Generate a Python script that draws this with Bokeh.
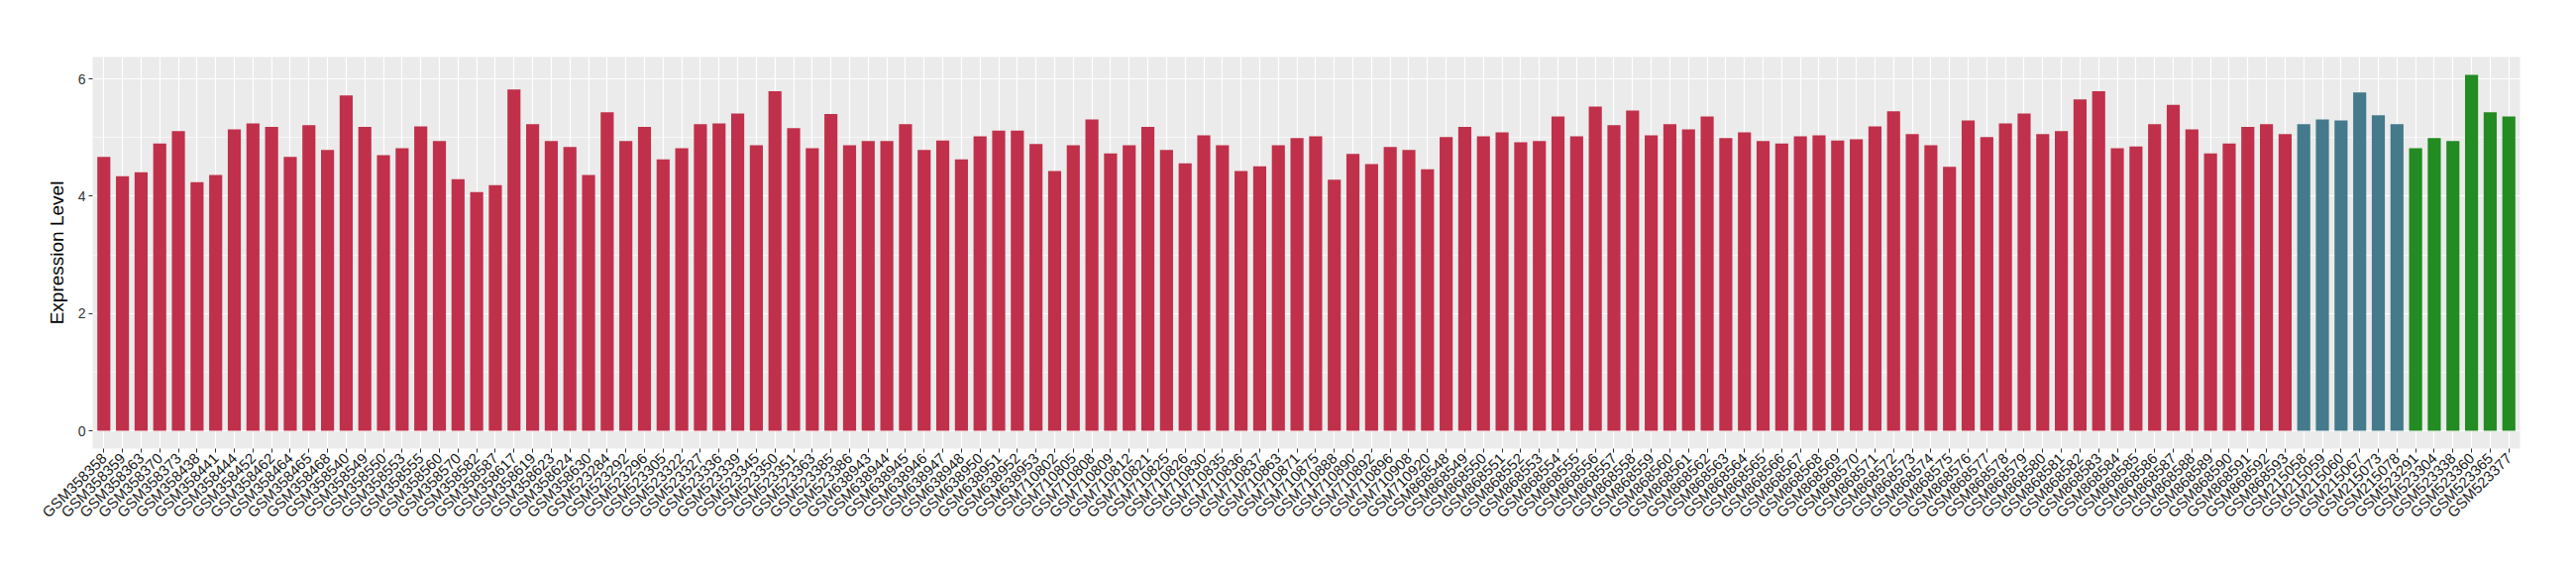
import math
from bokeh.plotting import figure
from bokeh.models import ColumnDataSource, FactorRange, Range1d, FixedTicker
from bokeh.transform import factor_cmap
from bokeh.embed import file_html
from bokeh.resources import INLINE

samples = [
    "GSM358358", "GSM358359", "GSM358363", "GSM358370", "GSM358373", "GSM358438", "GSM358441",
    "GSM358444", "GSM358452", "GSM358462", "GSM358464", "GSM358465", "GSM358468", "GSM358540",
    "GSM358549", "GSM358550", "GSM358553", "GSM358555", "GSM358560", "GSM358570", "GSM358582",
    "GSM358587", "GSM358617", "GSM358619", "GSM358623", "GSM358624", "GSM358630",
    "GSM523284", "GSM523292", "GSM523296", "GSM523305", "GSM523322", "GSM523327", "GSM523336",
    "GSM523339", "GSM523345", "GSM523350", "GSM523351", "GSM523363", "GSM523385", "GSM523386",
    "GSM638943", "GSM638944", "GSM638945", "GSM638946", "GSM638947", "GSM638948", "GSM638950",
    "GSM638951", "GSM638952", "GSM638953",
    "GSM710802", "GSM710805", "GSM710808", "GSM710809", "GSM710812", "GSM710821", "GSM710825",
    "GSM710826", "GSM710830", "GSM710835", "GSM710836", "GSM710837", "GSM710863", "GSM710871",
    "GSM710875", "GSM710888", "GSM710890", "GSM710892", "GSM710896", "GSM710908", "GSM710920",
    "GSM868548", "GSM868549", "GSM868550", "GSM868551", "GSM868552", "GSM868553", "GSM868554",
    "GSM868555", "GSM868556", "GSM868557", "GSM868558", "GSM868559", "GSM868560", "GSM868561",
    "GSM868562", "GSM868563", "GSM868564", "GSM868565", "GSM868566", "GSM868567", "GSM868568",
    "GSM868569", "GSM868570", "GSM868571", "GSM868572", "GSM868573", "GSM868574", "GSM868575",
    "GSM868576", "GSM868577", "GSM868578", "GSM868579", "GSM868580", "GSM868581", "GSM868582",
    "GSM868583", "GSM868584", "GSM868585", "GSM868586", "GSM868587", "GSM868588", "GSM868589",
    "GSM868590", "GSM868591", "GSM868592", "GSM868593",
    "GSM215058", "GSM215059", "GSM215060", "GSM215067", "GSM215073", "GSM215078",
    "GSM523291", "GSM523304", "GSM523338", "GSM523360", "GSM523365", "GSM523377",
]

values = [
    4.67, 4.34, 4.41, 4.90, 5.11, 4.24, 4.36, 5.14, 5.24, 5.18,
    4.67, 5.21, 4.79, 5.72, 5.18, 4.70, 4.82, 5.19, 4.94, 4.29,
    4.07, 4.19, 5.82, 5.23, 4.94, 4.84, 4.36,
    5.43, 4.94, 5.18, 4.63, 4.82, 5.23, 5.24, 5.41, 4.87, 5.79,
    5.16, 4.82, 5.40, 4.87,
    4.94, 4.94, 5.23, 4.79, 4.95, 4.63, 5.02, 5.12, 5.12, 4.89,
    4.43, 4.87, 5.31, 4.73, 4.87, 5.18, 4.79, 4.56, 5.04, 4.87,
    4.43, 4.51, 4.87, 4.99, 5.02, 4.28, 4.72, 4.55, 4.84, 4.79, 4.46,
    5.01, 5.18, 5.02, 5.09, 4.92, 4.94, 5.36, 5.02, 5.53, 5.21,
    5.46, 5.04, 5.23, 5.14, 5.36, 4.99, 5.09, 4.94, 4.90, 5.02,
    5.04, 4.95, 4.97, 5.19, 5.45, 5.06, 4.87, 4.50, 5.29, 5.01,
    5.24, 5.41, 5.06, 5.11, 5.65, 5.79, 4.82, 4.85, 5.23, 5.56,
    5.14, 4.73, 4.90, 5.18, 5.23, 5.06,
    5.23, 5.31, 5.29, 5.77, 5.38, 5.23,
    4.82, 4.99, 4.94, 6.07, 5.43, 5.36,
]

groups = ["Group 1"] * 118 + ["Group 2"] * 6 + ["Group 3"] * 6
group_names = ["Group 1", "Group 2", "Group 3"]
group_colors = ["#C1304A", "#447A8C", "#228B22"]

y_ticks = [0, 2, 4, 6]
y_minor = [1, 3, 5]

source = ColumnDataSource(data=dict(sample=samples, value=values, group=groups))

FONT = "Liberation Sans"

p = figure(
    x_range=FactorRange(factors=samples, range_padding=0.1, range_padding_units="absolute"),
    y_range=Range1d(-0.3035, 6.3735),
    frame_width=2450, frame_height=395,
    min_border_left=93, min_border_right=50, min_border_top=57, min_border_bottom=120,
    output_backend="svg", toolbar_location=None,
)

p.vbar(x="sample", top="value", width=0.7, source=source, line_color=None,
       fill_color=factor_cmap("group", palette=group_colors, factors=group_names))

p.background_fill_color = "#EBEBEB"
p.border_fill_color = "white"
p.outline_line_color = None

p.xgrid.grid_line_color = "white"
p.xgrid.grid_line_width = 1.2
p.ygrid.grid_line_color = "white"
p.ygrid.grid_line_width = 1.2
p.ygrid.minor_grid_line_color = "white"
p.ygrid.minor_grid_line_width = 0.6

p.yaxis.ticker = FixedTicker(ticks=y_ticks, minor_ticks=y_minor)
p.yaxis.axis_label = "Expression Level"
p.yaxis.axis_label_text_font = FONT
p.yaxis.axis_label_text_font_size = "19px"
p.yaxis.axis_label_text_font_style = "normal"
p.yaxis.axis_label_text_color = "black"
p.yaxis.axis_label_standoff = 8

for ax in (p.xaxis[0], p.yaxis[0]):
    ax.axis_line_color = None
    ax.major_tick_line_color = "#333333"
    ax.major_tick_line_width = 1
    ax.major_tick_out = 4
    ax.major_tick_in = 0
    ax.minor_tick_line_color = None
    ax.major_label_text_font = FONT
    ax.major_label_standoff = 3

p.yaxis.major_label_text_color = "#333333"
p.yaxis.major_label_text_font_size = "14px"
p.xaxis.major_label_text_color = "#1A1A1A"
p.xaxis.major_label_text_font_size = "15px"
p.xaxis.major_label_orientation = math.pi / 4

open("out.html", "w").write(file_html(p, INLINE))
